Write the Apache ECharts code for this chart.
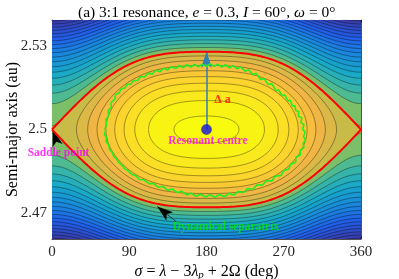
<!DOCTYPE html>
<html>
<head>
<meta charset="utf-8">
<script src="https://cdn.jsdelivr.net/npm/echarts@6/dist/echarts.min.js"></script>
<style>
html,body{margin:0;padding:0;background:#fff;}
#chart{width:399px;height:279px;}
</style>
</head>
<body>
<div id="chart"></div>
<script>
// axes
var xTicks = [0, 90, 180, 270, 360];
var yTicks = [2.47, 2.5, 2.53];
var aRange = [2.4606, 2.5394];

// resonance model
var aRes = 2.5;          // resonant centre
var sigmaRes = 180;
var sepWidth = 0.028;    // half width of the separatrix at sigma = 180
var harm2 = 0.2;         // weight of the 2*sigma term in the disturbing function

// contour levels (normalised Hamiltonian, centre = -1, saddle = 0)
var levels = [-0.97, -0.862, -0.754, -0.646, -0.538, -0.43, -0.322, -0.214, -0.106, 0.002,
    0.11, 0.218, 0.326, 0.434, 0.542, 0.65, 0.758, 0.866, 0.974, 1.082,
    1.19, 1.298, 1.406, 1.514, 1.622, 1.73, 1.838, 1.946];

// fill colour read at a few Hamiltonian values
var colorLevels = [-1, -0.6, -0.3, -0.05, 0.05, 0.2, 0.5, 0.93, 1.34, 1.95];
var colorList = ['#f9fb0e', '#fbd62c', '#f5b444', '#c9bb48', '#7dbf66', '#3fb8a0', '#18a8c8', '#1a86dc', '#2060e8', '#3a3aa8'];

// dynamical separatrix, [sigma, a]
var dynSep = [[61.7,2.5000],[63.5,2.5020],[62.8,2.5035],[66.0,2.5050],[65.5,2.5068],[69.0,2.5080],[68.8,2.5097],
    [73.0,2.5108],[74.0,2.5125],[78.5,2.5132],[80.0,2.5145],[85.0,2.5150],[87.5,2.5162],[92.0,2.5164],[95.0,2.5176],
    [100,2.5177],[103,2.5190],[108,2.5190],[112,2.5202],[117,2.5200],[121,2.5213],[126,2.5208],[130,2.5220],
    [135,2.5214],[139,2.5226],[144,2.5219],[148,2.5230],[153,2.5223],[157,2.5233],[162,2.5225],[166,2.5234],
    [171,2.5226],[175,2.5235],[180,2.5227],[184,2.5236],[189,2.5227],[193,2.5235],[198,2.5225],[202,2.5233],
    [207,2.5222],[211,2.5230],[216,2.5218],[220,2.5225],[225,2.5210],[229,2.5215],[234,2.5198],[238,2.5202],
    [243,2.5180],[247,2.5183],[252,2.5162],[256,2.5165],[261,2.5140],[264,2.5142],[268,2.5122],[271,2.5125],
    [275,2.5102],[277.5,2.5106],[280,2.5085],[283,2.5085],[284,2.5068],[287.5,2.5065],[287,2.5048],[291,2.5042],
    [290,2.5025],[293.5,2.5018],[292,2.5002],[295,2.4990],[293,2.4975],[295.5,2.4962],[292.5,2.4950],[293.5,2.4935],
    [289,2.4925],[289.5,2.4908],[284,2.4900],[284,2.4882],[278,2.4875],[276,2.4858],[270,2.4852],[267,2.4835],
    [260,2.4832],[256,2.4815],[250,2.4815],[245,2.4800],[239,2.4801],[234,2.4785],[228,2.4788],[223,2.4773],
    [217,2.4777],[212,2.4764],[206,2.4770],[201,2.4758],[195,2.4766],[190,2.4756],[184,2.4765],[179,2.4757],
    [173,2.4767],[168,2.4760],[162,2.4771],[157,2.4765],[151,2.4778],[146,2.4773],[140,2.4786],[135,2.4781],
    [129,2.4795],[124,2.4792],[118,2.4806],[113,2.4805],[107,2.4819],[102,2.4820],[97,2.4835],[93,2.4838],
    [88,2.4853],[85,2.4858],[81,2.4873],[78,2.4880],[75,2.4895],[72,2.4903],[70,2.4918],[67,2.4928],
    [66,2.4945],[63,2.4955],[63.5,2.4972],[61,2.4982],[62.5,2.4995],[61.7,2.5000]];

// annotations [sigma, a]
var centreLabelPos = [181.7, 2.4958];
var deltaLabelPos = [198.6, 2.5108];
var saddleLabelPos = [7.6, 2.4917];
var dynLabelPos = [202.7, 2.4649];
var saddleArrow = [[5, 2.4957], [0.8, 2.4997]];
var dynArrow = [[144.5, 2.4669], [122.6, 2.4723]];

var FONT = 'Liberation Serif';

function g(s) {
    var r = s * Math.PI / 180;
    return (1 - Math.cos(r)) / 2 + harm2 * (1 - Math.cos(2 * r)) / 2;
}
function invG(v) {
    var lo = 0, hi = 180;
    for (var k = 0; k < 60; k++) {
        var m = (lo + hi) / 2;
        if (g(m) < v) lo = m; else hi = m;
    }
    return (lo + hi) / 2;
}
function clampA(a) { return Math.min(aRange[1], Math.max(aRange[0], a)); }
function colorAt(h) {
    if (h <= colorLevels[0]) return colorList[0];
    for (var k = 1; k < colorLevels.length; k++) {
        if (h <= colorLevels[k]) {
            var t = (h - colorLevels[k - 1]) / (colorLevels[k] - colorLevels[k - 1]);
            return echarts.color.lerp(t, [colorList[k - 1], colorList[k]]);
        }
    }
    return colorList[colorList.length - 1];
}

// one curve (or pair of curves) per contour level
function levelCurves(L) {
    var k, sg, u;
    if (L < 0) {
        var s1 = invG(-L), pts = [];
        for (k = 0; k <= 180; k++) {
            sg = sigmaRes - (sigmaRes - s1) * Math.cos(k * Math.PI / 180);
            u = Math.sqrt(Math.max(0, L + g(sg)));
            pts.push([sg, aRes + sepWidth * u]);
        }
        for (k = 180; k >= 0; k--) {
            sg = sigmaRes - (sigmaRes - s1) * Math.cos(k * Math.PI / 180);
            u = Math.sqrt(Math.max(0, L + g(sg)));
            pts.push([sg, aRes - sepWidth * u]);
        }
        return { closed: pts };
    }
    var top = [], bot = [];
    for (k = 0; k <= 720; k++) {
        sg = k / 2;
        u = Math.sqrt(L + g(sg));
        top.push([sg, aRes + sepWidth * u]);
        bot.push([sg, aRes - sepWidth * u]);
    }
    return { top: top, bot: bot };
}

var curves = levels.map(levelCurves);

// filled bands: painted from the outside in
var polys = [], polyColors = [];
polys.push([[0, aRange[0]], [360, aRange[0]], [360, aRange[1]], [0, aRange[1]]]);
polyColors.push(colorAt(levels[levels.length - 1] + 0.05));
for (var b = levels.length - 1; b >= 0; b--) {
    var c = curves[b], poly;
    if (c.closed) {
        poly = c.closed;
    } else {
        poly = c.top.map(function (p) { return [p[0], clampA(p[1])]; })
            .concat(c.bot.slice().reverse().map(function (p) { return [p[0], clampA(p[1])]; }));
    }
    polys.push(poly);
    polyColors.push(colorAt(b === 0 ? -1 : (levels[b] + levels[b - 1]) / 2));
}

var series = [];
series.push({
    type: 'custom', silent: true, z: 1,
    data: polys.map(function () { return [180, 2.5]; }),
    renderItem: function (params, api) {
        var pts = polys[params.dataIndex].map(function (p) { return api.coord(p); });
        return {
            type: 'polygon', shape: { points: pts },
            style: { fill: polyColors[params.dataIndex], stroke: null }
        };
    }
});
curves.forEach(function (c) {
    (c.closed ? [c.closed] : [c.top, c.bot]).forEach(function (pts) {
        series.push({
            type: 'line', data: pts, symbol: 'none', silent: true, z: 3,
            lineStyle: { color: '#000', width: 0.6, opacity: 0.6 }
        });
    });
});
var sep = levelCurves(0);
[sep.top, sep.bot].forEach(function (pts) {
    series.push({
        type: 'line', data: pts, symbol: 'none', silent: true, z: 5,
        lineStyle: { color: '#ff0000', width: 2 }
    });
});
series.push({
    type: 'line', data: dynSep, symbol: 'none', silent: true, z: 6,
    lineStyle: { color: '#22ee22', width: 1.6 }
});
// arrows
series.push({
    type: 'line', data: [], silent: true, z: 7,
    markLine: {
        silent: true, animation: false, label: { show: false },
        symbol: ['none', 'arrow'],
        data: [
            [{ coord: [sigmaRes, aRes], lineStyle: { color: '#2f7fb5', width: 1.5, type: 'solid' }, symbolSize: [5, 8] },
             { coord: [sigmaRes, aRes + sepWidth] }],
            [{ coord: saddleArrow[0], lineStyle: { color: '#000', width: 0.6, type: 'solid' }, symbolSize: [3, 6] },
             { coord: saddleArrow[1] }],
            [{ coord: dynArrow[0], lineStyle: { color: '#000', width: 0.6, type: 'solid' }, symbolSize: [3, 6] },
             { coord: dynArrow[1] }]
        ]
    }
});
series.push({
    type: 'scatter', data: [[sigmaRes, aRes]], symbolSize: 10, z: 8, silent: true,
    itemStyle: { color: '#1212e6', borderColor: '#06068a', borderWidth: 0.5 }
});
function textMark(pos, text, color, size) {
    return {
        value: pos, symbolSize: 0,
        label: {
            show: true, position: 'inside', formatter: text,
            fontFamily: FONT, fontWeight: 'bold', fontSize: size, color: color
        }
    };
}
series.push({
    type: 'scatter', z: 9, silent: true, symbolSize: 0,
    data: [
        textMark(centreLabelPos, 'Resonant centre', '#ff00ff', 11.5),
        textMark(deltaLabelPos, 'Δ a', '#ff0000', 12),
        textMark(saddleLabelPos, 'Saddle point', '#ff00ff', 11.5),
        textMark(dynLabelPos, 'Dynamical separatrix', '#00ea00', 11.5)
    ]
});

var axisCol = '#262626';
var tickLabel = { fontFamily: FONT, fontSize: 15, color: '#262626' };
var gridBox = { left: 52, top: 20, width: 309, height: 219, containLabel: false, outerBoundsMode: 'none' };

var chart = echarts.init(document.getElementById('chart'));
chart.setOption({
    animation: false,
    backgroundColor: '#fff',
    title: {
        text: '(a) 3:1 resonance, {i|e} = 0.3, {i|I} = 60°, {i|ω} = 0°',
        left: 73, top: 0,
        textStyle: {
            fontFamily: FONT, fontSize: 15.5, fontWeight: 'normal', color: '#000',
            rich: { i: { fontFamily: FONT, fontSize: 15.5, fontStyle: 'italic', color: '#000' } }
        }
    },
    grid: gridBox,
    xAxis: [
        {
            type: 'value', position: 'bottom', min: 0, max: 360, interval: 90,
            axisLine: { show: true, onZero: false, lineStyle: { color: axisCol, width: 0.8 } },
            axisTick: { show: true, inside: true, length: 3, lineStyle: { color: axisCol } },
            axisLabel: Object.assign({ margin: 6 }, tickLabel),
            splitLine: { show: false },
            name: '{m|σ} = {m|λ} − 3{m|λ}{sub|p} + 2Ω (deg)',
            nameLocation: 'middle', nameGap: 24, nameMoveOverlap: false,
            nameTextStyle: {
                fontFamily: FONT, fontSize: 16, color: '#000',
                rich: {
                    m: { fontFamily: FONT, fontSize: 16, fontStyle: 'italic', color: '#000' },
                    sub: { fontFamily: FONT, fontSize: 11, fontStyle: 'italic', color: '#000', verticalAlign: 'bottom', padding: [7, 0, 0, 0] }
                }
            }
        },
        {
            type: 'value', position: 'top', min: 0, max: 360, interval: 90,
            axisLine: { show: true, onZero: false, lineStyle: { color: axisCol, width: 0.8 } },
            axisTick: { show: true, inside: true, length: 3, lineStyle: { color: axisCol } },
            axisLabel: { show: false }, splitLine: { show: false }
        }
    ],
    yAxis: [
        {
            type: 'value', position: 'left', min: aRange[0], max: aRange[1],
            axisLine: { show: true, onZero: false, lineStyle: { color: axisCol, width: 0.8 } },
            axisTick: { show: true, inside: true, length: 3, customValues: yTicks, lineStyle: { color: axisCol } },
            axisLabel: Object.assign({
                margin: 5, customValues: yTicks,
                formatter: function (v) { return Math.abs(v - 2.5) < 1e-9 ? '2.5' : v.toFixed(2); }
            }, tickLabel),
            splitLine: { show: false },
            name: 'Semi-major axis (au)', nameLocation: 'middle', nameGap: 31, nameMoveOverlap: false,
            nameTextStyle: { fontFamily: FONT, fontSize: 16, color: '#000' }
        },
        {
            type: 'value', position: 'right', min: aRange[0], max: aRange[1],
            axisLine: { show: true, onZero: false, lineStyle: { color: axisCol, width: 0.8 } },
            axisTick: { show: true, inside: true, length: 3, customValues: yTicks, lineStyle: { color: axisCol } },
            axisLabel: { show: false }, splitLine: { show: false }
        }
    ],
    series: series
});
</script>
</body>
</html>
